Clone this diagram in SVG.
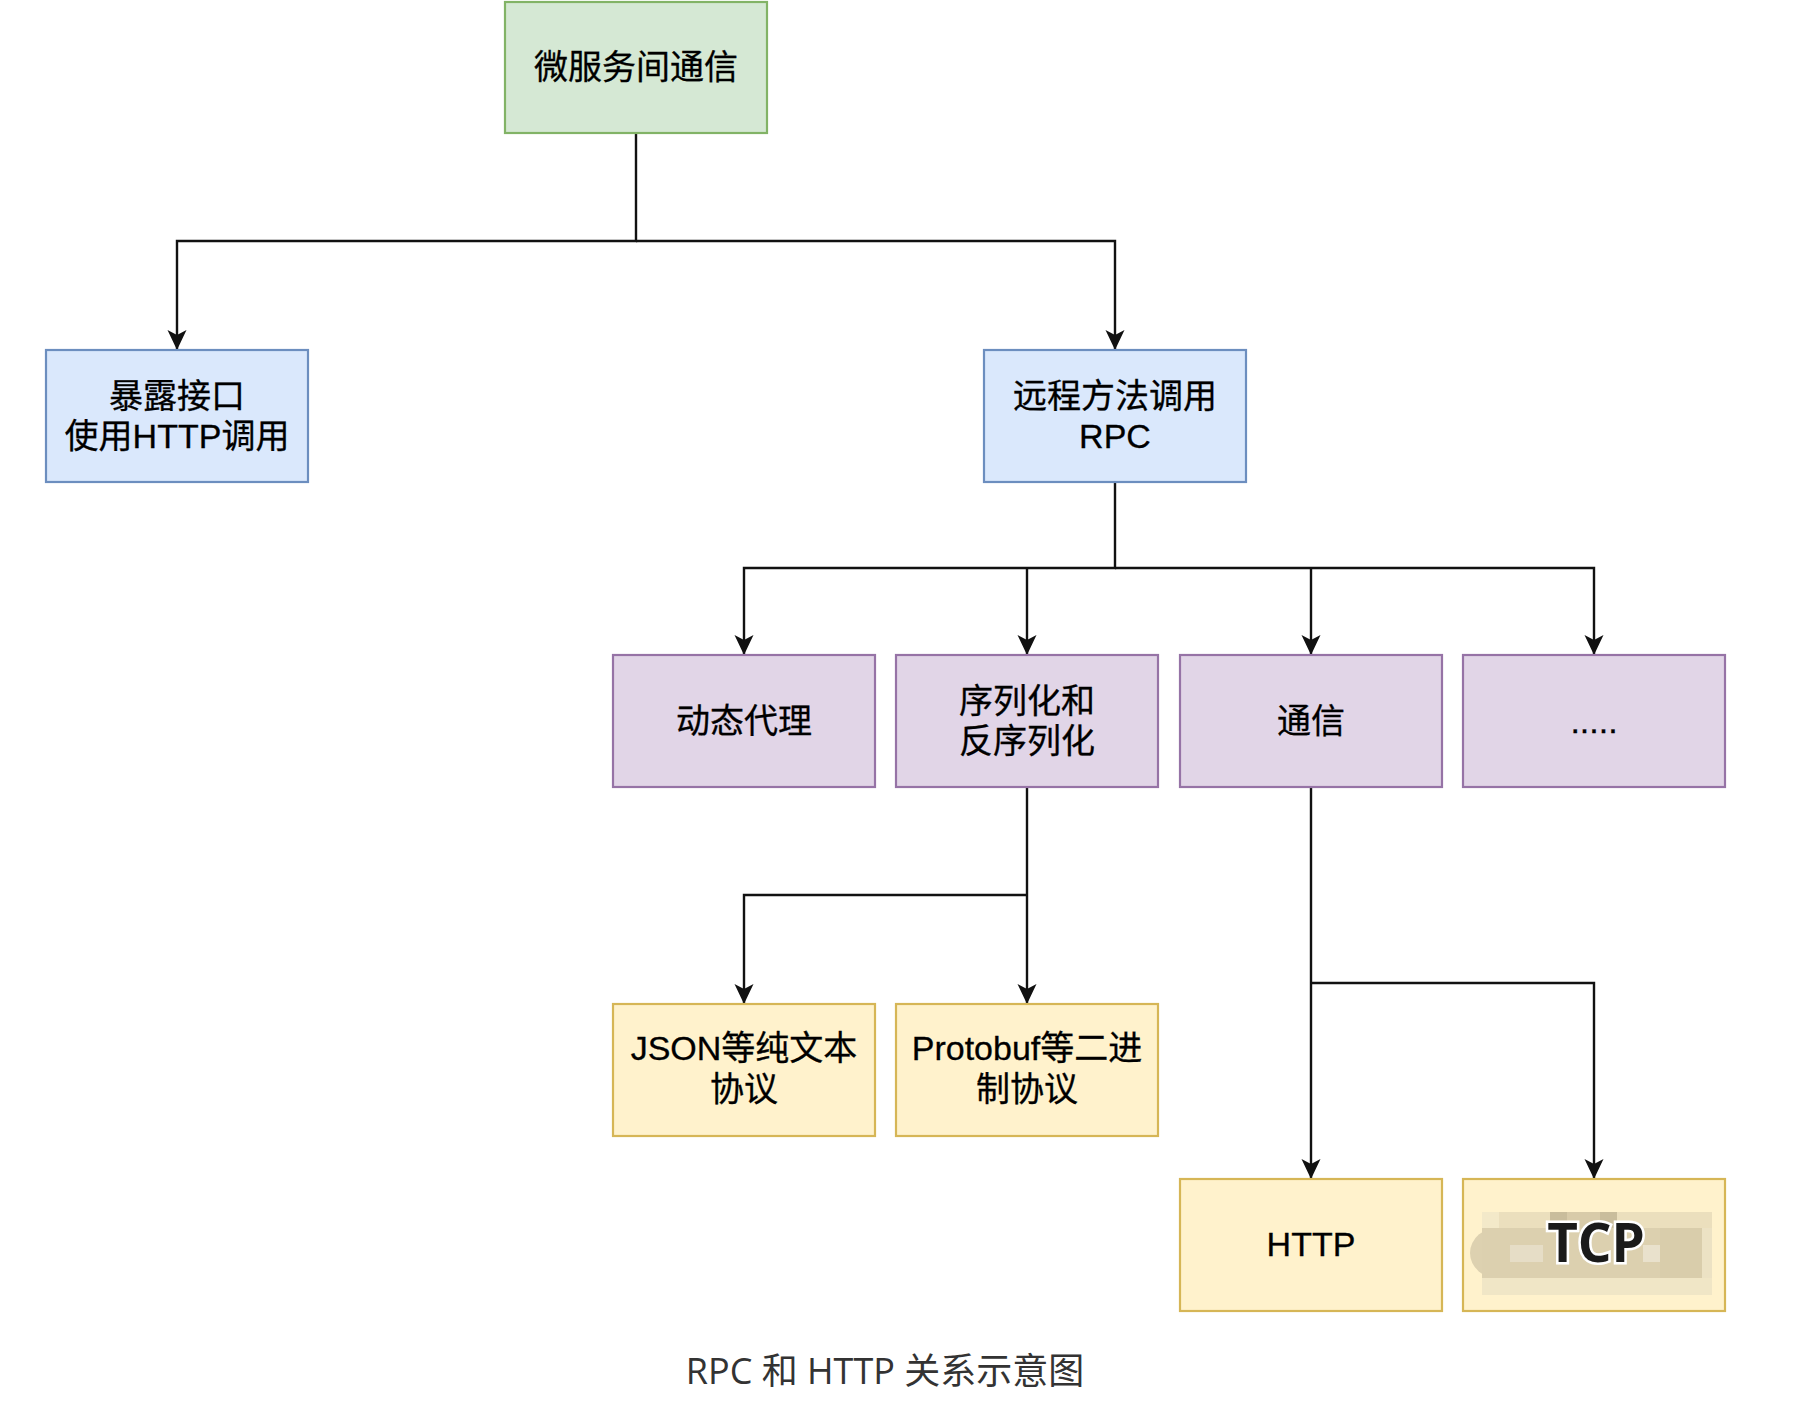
<svg xmlns="http://www.w3.org/2000/svg" width="1811" height="1403" viewBox="0 0 1811 1403">
<style>
.box{stroke-width:2.2}
.g{fill:#d5e8d4;stroke:#82b366}
.b{fill:#dae8fc;stroke:#6c8ebf}
.p{fill:#e1d5e7;stroke:#9673a6}
.y{fill:#fff2cc;stroke:#d6b656}
.t{font-family:"Liberation Sans","Noto Sans CJK SC",sans-serif;font-size:34px;fill:#000;text-anchor:middle;stroke:#000;stroke-width:0.3}
.c{fill:none;stroke:#111;stroke-width:2.4}
.cap{font-family:"Open Sans","Noto Sans CJK SC",sans-serif;font-size:36px;fill:#333;text-anchor:middle}
</style>
<defs>
<marker id="arr" markerUnits="userSpaceOnUse" markerWidth="24" markerHeight="24" refX="0" refY="0" orient="auto" overflow="visible">
<path d="M0,0 L-20,-9.5 L-15,0 L-20,9.5 Z" fill="#111"/>
</marker>
</defs>
<rect width="1811" height="1403" fill="#fff"/>
<g id="connectors">
<path class="c" d="M636 133 V241 H177 V350" marker-end="url(#arr)"/>
<path class="c" d="M636 241 H1115 V350" marker-end="url(#arr)"/>
<path class="c" d="M1115 482 V568 H744 V655" marker-end="url(#arr)"/>
<path class="c" d="M1027 568 V655" marker-end="url(#arr)"/>
<path class="c" d="M1115 568 H1594 V655" marker-end="url(#arr)"/>
<path class="c" d="M1311 568 V655" marker-end="url(#arr)"/>
<path class="c" d="M1027 787 V1004" marker-end="url(#arr)"/>
<path class="c" d="M1027 895 H744 V1004" marker-end="url(#arr)"/>
<path class="c" d="M1311 787 V1179" marker-end="url(#arr)"/>
<path class="c" d="M1311 983 H1594 V1179" marker-end="url(#arr)"/>
</g>
<g id="n-root"><rect class="box g" x="505" y="2" width="262" height="131"/><text class="t" x="636" y="79">微服务间通信</text></g>
<g id="n-http-call"><rect class="box b" x="46" y="350" width="262" height="132"/><text class="t" x="177" y="408">暴露接口</text><text class="t" x="177" y="448">使用HTTP调用</text></g>
<g id="n-rpc"><rect class="box b" x="984" y="350" width="262" height="132"/><text class="t" x="1115" y="408">远程方法调用</text><text class="t" x="1115" y="448">RPC</text></g>
<g id="n-proxy"><rect class="box p" x="613" y="655" width="262" height="132"/><text class="t" x="744" y="733">动态代理</text></g>
<g id="n-serial"><rect class="box p" x="896" y="655" width="262" height="132"/><text class="t" x="1027" y="713">序列化和</text><text class="t" x="1027" y="753">反序列化</text></g>
<g id="n-comm"><rect class="box p" x="1180" y="655" width="262" height="132"/><text class="t" x="1311" y="733">通信</text></g>
<g id="n-more"><rect class="box p" x="1463" y="655" width="262" height="132"/><text class="t" x="1594" y="733">.....</text></g>
<g id="n-json"><rect class="box y" x="613" y="1004" width="262" height="132"/><text class="t" x="744" y="1060">JSON等纯文本</text><text class="t" x="744" y="1101">协议</text></g>
<g id="n-proto"><rect class="box y" x="896" y="1004" width="262" height="132"/><text class="t" x="1027" y="1060">Protobuf等二进</text><text class="t" x="1027" y="1101">制协议</text></g>
<g id="n-http"><rect class="box y" x="1180" y="1179" width="262" height="132"/><text class="t" x="1311" y="1256">HTTP</text></g>
<g id="n-tcp"><rect class="box y" x="1463" y="1179" width="262" height="132"/>
<g id="blur">
<ellipse cx="1500" cy="1253" rx="30" ry="26" fill="#ddd1b0"/>
<rect x="1482" y="1212" width="230" height="83" fill="#ebdfbd"/>
<rect x="1482" y="1228" width="220" height="50" fill="#dcd0af"/>
<rect x="1550" y="1212" width="17" height="16" fill="#c9bd9c"/>
<rect x="1567" y="1212" width="33" height="16" fill="#d8cba9"/>
<rect x="1600" y="1212" width="17" height="16" fill="#c9bd9c"/>
<rect x="1510" y="1245" width="33" height="17" fill="#e6ddc6"/>
<rect x="1643" y="1245" width="17" height="17" fill="#e9e1cc"/>
<rect x="1660" y="1228" width="42" height="50" fill="#d9cdab"/>
<rect x="1702" y="1228" width="10" height="50" fill="#ece2c4"/>
<rect x="1482" y="1278" width="230" height="17" fill="#f0e6c6"/>
<rect x="1482" y="1212" width="17" height="16" fill="#f3e9c9"/>
</g>
<text x="1596" y="1262" font-family="'Open Sans','Liberation Sans',sans-serif" font-weight="bold" font-size="53" fill="#1a1a1a" stroke="#fff" stroke-width="5" paint-order="stroke" text-anchor="middle">TCP</text>
</g>
<text class="cap" x="885" y="1384">RPC 和 HTTP 关系示意图</text>
</svg>
